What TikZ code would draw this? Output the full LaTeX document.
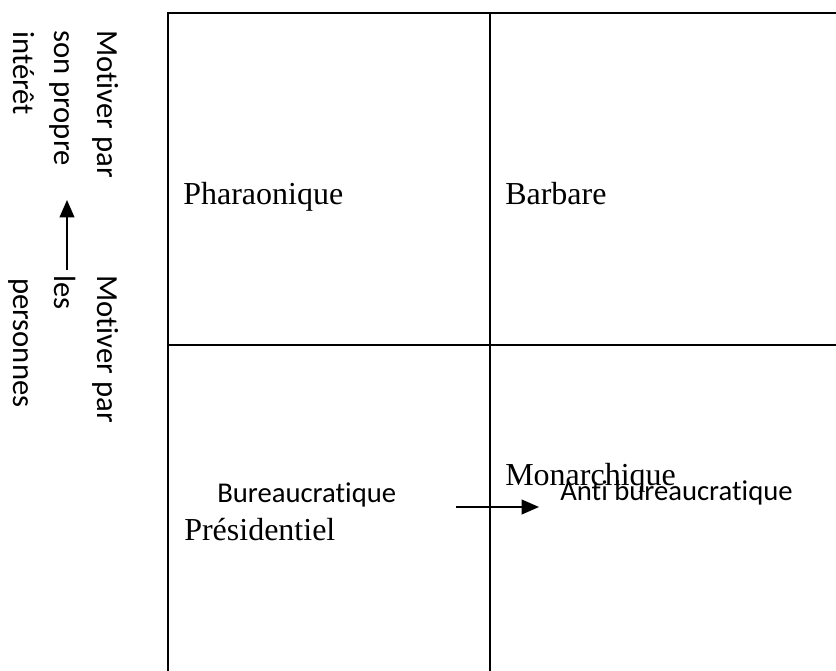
\documentclass[tikz,border=0pt]{standalone}
\usepackage{fontspec}
\setmainfont{Liberation Serif}
\newfontfamily\calibrifont[Ligatures=NoCommon]{Carlito}
\usetikzlibrary{arrows.meta}

\begin{document}
\begin{tikzpicture}[x=0.75pt,y=-0.75pt,
  cell/.style={anchor=base west,inner sep=0pt,font=\fontsize{24}{28}\selectfont},
  note/.style={anchor=base west,inner sep=0pt,font=\calibrifont\fontsize{21.5}{26}\selectfont},
  side/.style={note,rotate=-90,font=\calibrifont\fontsize{23}{28}\selectfont},
  gridline/.style={line width=1.5pt},
  pointer/.style={line width=1.5pt,-{Triangle[length=13pt,width=11pt]}}]
  \useasboundingbox (0,0) rectangle (836,671);

  % grid
  \draw[gridline] (168,671) -- (168,13) -- (836,13);
  \draw[gridline] (490,13) -- (490,671);
  \draw[gridline] (168,345) -- (836,345);

  % quadrants
  \node[cell] (phara) at (183,204) {Pharaonique};
  \node[cell] (barb) at (505,204) {Barbare};
  \node[cell] (presi) at (184,540) {Présidentiel};
  \node[cell] (monar) at (505,485) {Monarchique};
  \node[note] (bureau) at (217,502) {Bureaucratique};
  \node[note] (antib) at (560,500) {Anti bureaucratique};

  % side labels
  \node[side] (intA) at (97,30) {Motiver par};
  \node[side] (intB) at (55,30) {son propre};
  \node[side] (intC) at (13,31) {intérêt};
  \node[side] (persA) at (97,275) {Motiver par};
  \node[side] (persB) at (55,275) {les};
  \node[side] (persC) at (13,278) {personnes};

  % arrows
  \coordinate (vfrom) at (67,270);
  \coordinate (vto) at (67,200);
  \coordinate (hfrom) at (456,507);
  \coordinate (hto) at (539,507);
  \draw[pointer] (vfrom) -- (vto);
  \draw[pointer] (hfrom) -- (hto);
\end{tikzpicture}
\end{document}
